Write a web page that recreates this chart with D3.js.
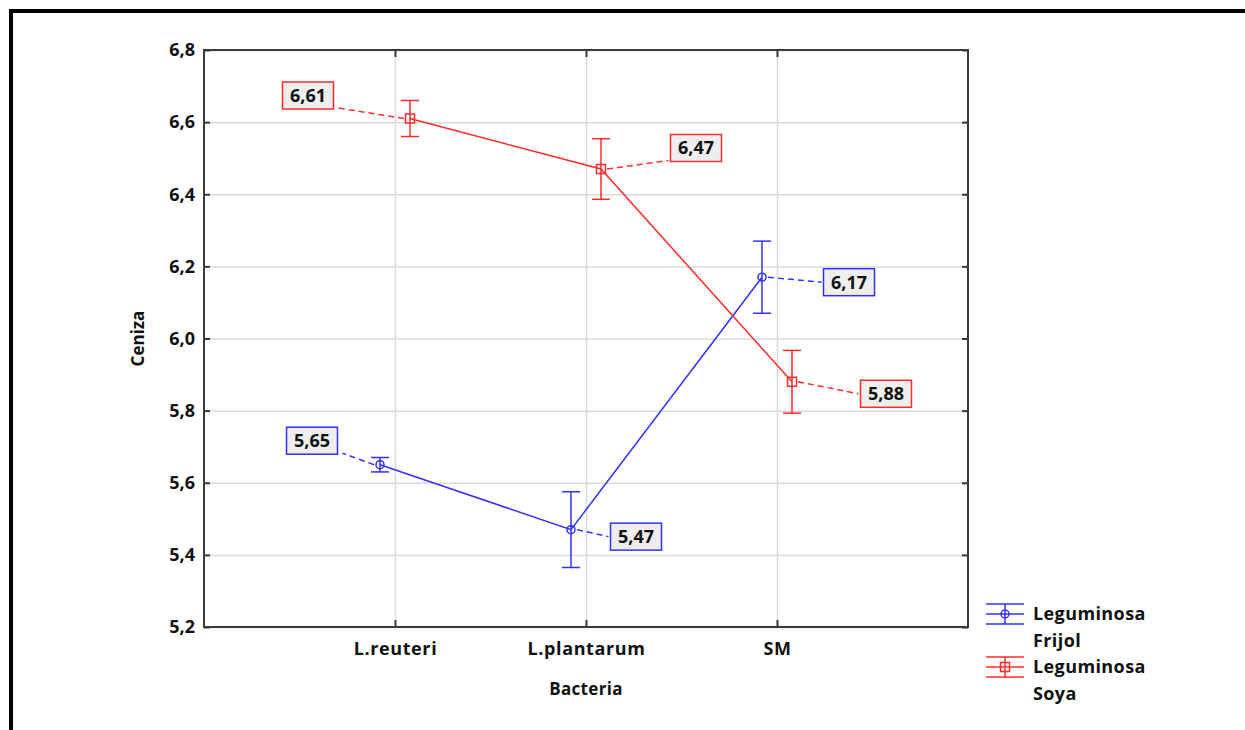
<!DOCTYPE html>
<html>
<head>
<meta charset="utf-8">
<script src="https://cdn.jsdelivr.net/npm/d3@7"></script>
<style>
  html, body { margin: 0; padding: 0; background: #fff; }
  svg { display: block; }
  text { font-family: "Open Sans", Lato, sans-serif; font-weight: 700; fill: #111; }
</style>
</head>
<body>
<svg id="chart" width="1245" height="730"></svg>
<script>
// data
const categories = ["L.reuteri", "L.plantarum", "SM"];
const yTicks = [5.2, 5.4, 5.6, 5.8, 6.0, 6.2, 6.4, 6.6, 6.8];
const frijolMeans = [5.65, 5.47, 6.17];
const frijolErrors = [0.02, 0.105, 0.10];
const soyaMeans = [6.61, 6.47, 5.88];
const soyaErrors = [0.05, 0.084, 0.087];
const seriesNames = [["Leguminosa", "Frijol"], ["Leguminosa", "Soya"]];

// where each value box sits, relative to its point
const frijolLabelOffsets = [[-68, -24], [65, 7], [87, 5]];
const soyaLabelOffsets = [[-102, -23], [95, -21], [94, 12]];

const BLUE = "#3030ff";
const RED = "#ff2b2b";
const LEFT = 204, RIGHT = 968, TOP = 50, BOTTOM = 627;
const FONT = "Open Sans";
const comma = (v, d) => d3.format("." + d + "f")(v).replace(".", ",");

const svg = d3.select("#chart");

// outer frame (open at right and bottom)
svg.append("path")
  .attr("d", "M11,730V11H1245")
  .attr("fill", "none")
  .attr("stroke", "#000")
  .attr("stroke-width", 4);

const x = d3.scalePoint().domain(categories).range([LEFT, RIGHT]).padding(1);
const y = d3.scaleLinear().domain([5.2, 6.8]).range([BOTTOM, TOP]);

// grid
svg.append("g")
  .attr("transform", `translate(${LEFT},0)`)
  .call(d3.axisLeft(y).tickValues(yTicks).tickSize(-(RIGHT - LEFT)).tickFormat(""))
  .call((g) => g.select(".domain").remove())
  .call((g) => g.selectAll("line").attr("stroke", "#dadada").attr("stroke-width", 1.5));
svg.append("g")
  .attr("transform", `translate(0,${BOTTOM})`)
  .call(d3.axisBottom(x).tickSize(-(BOTTOM - TOP)).tickFormat(""))
  .call((g) => g.select(".domain").remove())
  .call((g) => g.selectAll("line").attr("stroke", "#dadada").attr("stroke-width", 1.5));

// plot frame
svg.append("rect")
  .attr("x", LEFT).attr("y", TOP)
  .attr("width", RIGHT - LEFT).attr("height", BOTTOM - TOP)
  .attr("fill", "none").attr("stroke", "#3a3a3a").attr("stroke-width", 2);

// axes with inside ticks
const yAxis = svg.append("g")
  .attr("transform", `translate(${LEFT},0)`)
  .call(d3.axisLeft(y).tickValues(yTicks).tickSizeInner(-6).tickSizeOuter(0)
    .tickPadding(9).tickFormat((d) => comma(d, 1)));
yAxis.select(".domain").remove();
yAxis.selectAll("line").attr("stroke", "#3a3a3a").attr("stroke-width", 2);
yAxis.selectAll("text").attr("font-size", 18).attr("font-family", FONT)
  .attr("font-weight", 700).attr("fill", "#111");

svg.append("g")
  .attr("transform", `translate(${RIGHT},0)`)
  .call(d3.axisRight(y).tickValues(yTicks).tickSizeInner(-6).tickSizeOuter(0).tickFormat(""))
  .call((g) => g.select(".domain").remove())
  .call((g) => g.selectAll("line").attr("stroke", "#3a3a3a").attr("stroke-width", 2));

svg.append("g")
  .attr("transform", `translate(0,${TOP})`)
  .call(d3.axisTop(x).tickSizeInner(-7).tickSizeOuter(0).tickFormat(""))
  .call((g) => g.select(".domain").remove())
  .call((g) => g.selectAll("line").attr("stroke", "#3a3a3a").attr("stroke-width", 2));

const xAxis = svg.append("g")
  .attr("transform", `translate(0,${BOTTOM})`)
  .call(d3.axisBottom(x).tickSizeInner(-7).tickSizeOuter(0).tickPadding(15));
xAxis.select(".domain").remove();
xAxis.selectAll("line").attr("stroke", "#3a3a3a").attr("stroke-width", 2);
xAxis.selectAll("text").attr("font-size", 18).attr("font-family", FONT)
  .attr("font-weight", 700).attr("fill", "#111").attr("letter-spacing", 0.6);

// axis titles
svg.append("text")
  .attr("transform", `translate(144,${(TOP + BOTTOM) / 2}) rotate(-90)`)
  .attr("text-anchor", "middle")
  .attr("font-size", 17)
  .text("Ceniza");
svg.append("text")
  .attr("x", x("L.plantarum"))
  .attr("y", 695)
  .attr("text-anchor", "middle")
  .attr("font-size", 17)
  .attr("letter-spacing", 0.3)
  .text("Bacteria");

const series = [
  { name: seriesNames[0], means: frijolMeans, errors: frijolErrors, offsets: frijolLabelOffsets, color: BLUE, shift: -15, marker: "circle" },
  { name: seriesNames[1], means: soyaMeans, errors: soyaErrors, offsets: soyaLabelOffsets, color: RED, shift: 15, marker: "square" },
];

const CAP = 9;
const BOX_W = 51, BOX_H = 27;

function drawMarker(g, type, cx, cy, color) {
  if (type === "circle") {
    g.append("circle").attr("cx", cx).attr("cy", cy).attr("r", 4)
      .attr("fill", "none").attr("stroke", color).attr("stroke-width", 1.5);
  } else {
    g.append("rect").attr("x", cx - 4.5).attr("y", cy - 4.5).attr("width", 9).attr("height", 9)
      .attr("fill", "none").attr("stroke", color).attr("stroke-width", 1.5);
  }
}

series.forEach((s) => {
  const g = svg.append("g");
  const px = (i) => x(categories[i]) + s.shift;
  const line = d3.line().x((d, i) => px(i)).y((d) => y(d));
  g.append("path").attr("d", line(s.means))
    .attr("fill", "none").attr("stroke", s.color).attr("stroke-width", 1.5);

  s.means.forEach((m, i) => {
    const cx = px(i);
    const top = y(m + s.errors[i]);
    const bot = y(m - s.errors[i]);
    g.append("line").attr("x1", cx).attr("x2", cx).attr("y1", top).attr("y2", bot)
      .attr("stroke", s.color).attr("stroke-width", 1.5);
    [top, bot].forEach((yy) => {
      g.append("line").attr("x1", cx - CAP).attr("x2", cx + CAP).attr("y1", yy).attr("y2", yy)
        .attr("stroke", s.color).attr("stroke-width", 1.5);
    });
    drawMarker(g, s.marker, cx, y(m), s.color);
  });
});

// value boxes with dashed leaders
series.forEach((s) => {
  const g = svg.append("g");
  s.means.forEach((m, i) => {
    const cx = x(categories[i]) + s.shift;
    const cy = y(m);
    const bx = cx + s.offsets[i][0];
    const by = cy + s.offsets[i][1];
    const left = bx - BOX_W / 2, right = bx + BOX_W / 2;
    const top = by - BOX_H / 2, bottom = by + BOX_H / 2;
    const ex = bx < cx ? right + 5 : left - 2;
    let ey = by;
    if (Math.abs(by - cy) > BOX_H / 2) ey = by < cy ? bottom - 1 : top + 1;
    const sx = cx + (bx < cx ? -6 : 6);
    g.append("line").attr("x1", sx).attr("y1", cy).attr("x2", ex).attr("y2", ey)
      .attr("stroke", s.color).attr("stroke-width", 1.5).attr("stroke-dasharray", "6,4");
    g.append("rect").attr("x", left).attr("y", top).attr("width", BOX_W).attr("height", BOX_H)
      .attr("fill", "#eeeeee").attr("stroke", s.color).attr("stroke-width", 1.5);
    g.append("text").attr("x", bx).attr("y", by).attr("dy", "0.36em")
      .attr("text-anchor", "middle").attr("font-size", 18)
      .text(comma(m, 2));
  });
});

// legend
const legend = svg.append("g").attr("transform", "translate(986,614)");
series.forEach((s, k) => {
  const row = legend.append("g").attr("transform", `translate(0,${k * 53})`);
  [-10, 0, 10].forEach((dy) => {
    row.append("line").attr("x1", 0).attr("x2", 38).attr("y1", dy).attr("y2", dy)
      .attr("stroke", s.color).attr("stroke-width", 1.5);
  });
  row.append("line").attr("x1", 19).attr("x2", 19).attr("y1", -10).attr("y2", 10)
    .attr("stroke", s.color).attr("stroke-width", 1.5);
  drawMarker(row, s.marker, 19, 0, s.color);
  row.append("text").attr("x", 47).attr("y", 6).attr("font-size", 18).attr("letter-spacing", 0.4).text(s.name[0]);
  row.append("text").attr("x", 47).attr("y", 33).attr("font-size", 18).attr("letter-spacing", 0.4).text(s.name[1]);
});
</script>
</body>
</html>
